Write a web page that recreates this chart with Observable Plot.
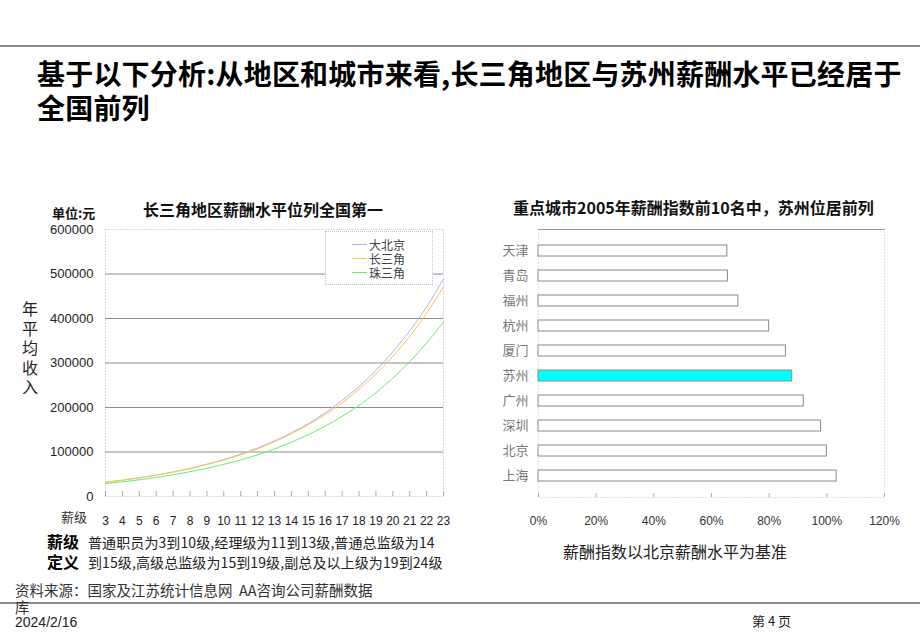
<!DOCTYPE html>
<html><head><meta charset="utf-8">
<script src="https://cdn.jsdelivr.net/npm/d3@7"></script>
<script src="https://cdn.jsdelivr.net/npm/@observablehq/plot@0.6"></script>
<style>
body{margin:0;background:#fff;}
#slide{position:relative;width:920px;height:637px;overflow:hidden;background:#fff;font-family:"Liberation Sans",Arial,"Noto Sans CJK SC",sans-serif;color:#222;}
.abs{position:absolute;white-space:nowrap;}
.cjk{font-family:"Noto Sans CJK SC","Liberation Sans",sans-serif;}
</style></head>
<body><div id="slide"></div>
<script>
// ---- data: left chart (annual income by pay grade) ----
const grades = [3,4,5,6,7,8,9,10,11,12,13,14,15,16,17,18,19,20,21,22,23];
const seriesNames = ["大北京","长三角","珠三角"];
const seriesColors = ["#aab0ff","#ffc83a","#66f066"];
const beijing = [32000,36700,42000,48200,55200,63200,72500,83000,95200,109000,125000,143000,164000,188000,216000,247000,283000,325000,372000,426000,489000];
const changsanjiao = [32000,36600,41900,47900,54800,62700,71700,82000,93800,107000,123000,141000,161000,184000,210000,241000,275000,315000,360000,412000,471000];
const zhusanjiao = [29000,33000,37600,42900,48800,55600,63400,72200,82200,93600,107000,122000,139000,158000,180000,205000,233000,266000,303000,345000,392000];
const yTicks = [0,100000,200000,300000,400000,500000,600000];
const gridLines = [100000,200000,300000,400000,500000];

// ---- data: right chart (salary index vs Beijing) ----
const cities = ["天津","青岛","福州","杭州","厦门","苏州","广州","深圳","北京","上海"];
const salaryIndex = [0.655,0.657,0.693,0.80,0.858,0.88,0.92,0.98,1.0,1.034];
const highlightCity = "苏州";
const xTicksRight = [0,0.2,0.4,0.6,0.8,1.0,1.2];

const slide = document.getElementById("slide");
function addText(txt, css, cls){
  const d = document.createElement("div");
  d.className = "abs " + (cls||"");
  d.innerHTML = txt;
  d.style.cssText += css;
  slide.appendChild(d);
  return d;
}

// header / footer lines
addText("", "left:0;top:45px;width:920px;height:2px;background:#8a8a8a;");
addText("", "left:0;top:602px;width:920px;height:2px;background:#8a8a8a;");

// main title
addText("基于以下分析:从地区和城市来看,长三角地区与苏州薪酬水平已经居于<br>全国前列",
  "left:37px;top:56px;font-size:28px;line-height:34px;font-weight:bold;color:#000;letter-spacing:0.2px;", "cjk");

// ---- left chart ----
const rows = [beijing, changsanjiao, zhusanjiao].flatMap((vals, s) =>
  grades.map((g, i) => ({grade: g, value: vals[i], name: seriesNames[s]})));

const left = Plot.plot({
  width: 460, height: 330,
  marginLeft: 105, marginRight: 17, marginTop: 29, marginBottom: 34,
  style: {fontFamily: '"Liberation Sans",Arial,sans-serif', fontSize: "12px", color: "#222", background: "transparent"},
  x: {domain: [3, 23]},
  y: {domain: [0, 600000]},
  color: {domain: seriesNames, range: seriesColors},
  marks: [
    Plot.frame({stroke: "#b8b0c0", strokeDasharray: "1,2"}),
    Plot.ruleY(gridLines, {stroke: "#8c8c8c", strokeWidth: 1.2}),
    Plot.line(rows, {x: "grade", y: "value", z: "name", stroke: "name", strokeWidth: 1, curve: "monotone-x"}),
    Plot.axisY({ticks: yTicks, tickSize: 0, tickPadding: 12, tickFormat: d => String(d), fontSize: 13, label: null}),
    Plot.axisX({ticks: grades, tickSize: -5, tickPadding: 25, tickFormat: d => String(d), stroke: "#aaa", fill: "#222", label: null})
  ]
});
left.style.position = "absolute"; left.style.left = "0px"; left.style.top = "200px";
slide.appendChild(left);

addText("长三角地区薪酬水平位列全国第一", "left:143px;top:197px;font-size:16px;font-weight:bold;color:#111;", "cjk");
addText("单位:元", "left:52px;top:203px;font-size:13px;font-weight:bold;color:#111;", "cjk");
addText("年<br>平<br>均<br>收<br>入", "left:22px;top:299px;font-size:16px;line-height:19.5px;color:#222;white-space:normal;width:18px;", "cjk");
addText("薪级", "left:61px;top:507px;font-size:13px;color:#333;", "cjk");

// legend
const leg = addText("", "left:325px;top:231px;width:106px;height:52px;background:#fff;border:1px dotted #c8b8d0;");
seriesNames.forEach((n, i) => {
  const row = document.createElement("div");
  row.style.cssText = `position:absolute;left:26px;top:${6 + i * 14}px;height:13px;display:flex;align-items:center;`;
  row.innerHTML = `<span style="display:inline-block;width:15px;height:1.5px;background:${seriesColors[i]};margin-right:2px;"></span><span class="cjk" style="font-size:12px;line-height:13px;color:#444;">${n}</span>`;
  leg.appendChild(row);
});

// definition text
addText("薪级<br>定义", "left:47px;top:531px;font-size:16px;line-height:20px;font-weight:bold;color:#000;", "cjk");
addText("普通职员为3到10级,经理级为11到13级,普通总监级为14<br>到15级,高级总监级为15到19级,副总及以上级为19到24级",
  "left:88px;top:533px;font-size:14px;line-height:19.5px;color:#222;letter-spacing:0.1px;", "cjk");

// ---- right chart ----
const bars = cities.map((c, i) => ({city: c, value: salaryIndex[i]}));
const right = Plot.plot({
  width: 460, height: 332,
  marginLeft: 78, marginRight: 36, marginTop: 29, marginBottom: 35,
  style: {fontFamily: '"Liberation Sans",Arial,sans-serif', fontSize: "12px", color: "#222", background: "transparent"},
  x: {domain: [0, 1.2]},
  y: {domain: cities, padding: 0.58},
  marks: [
    Plot.frame({stroke: "#c0c8c0", strokeDasharray: "1,2"}),
    Plot.frame({anchor: "top", stroke: "#9a9a9a", strokeWidth: 1.2}),
    Plot.barX(bars, {x: "value", y: "city", fill: d => d.city === highlightCity ? "#00ffff" : "#ffffff", stroke: "#8a8a8a", strokeWidth: 1}),
    Plot.axisY({tickSize: 0, tickPadding: 10, fontSize: 13, fill: "#777", fontFamily: '"Noto Sans CJK SC",sans-serif', label: null}),
    Plot.axisX({ticks: xTicksRight, tickSize: -4, tickPadding: 23, tickFormat: d => Math.round(d * 100) + "%", stroke: "#aaa", fill: "#333", label: null})
  ]
});
right.style.position = "absolute"; right.style.left = "460px"; right.style.top = "200px";
slide.appendChild(right);

addText("重点城市2005年薪酬指数前10名中，苏州位居前列", "left:513px;top:195px;font-size:16px;font-weight:bold;color:#111;", "cjk");
addText("薪酬指数以北京薪酬水平为基准", "left:563px;top:539px;font-size:16px;color:#222;", "cjk");

// footer
addText("资料来源：国家及江苏统计信息网&nbsp;&nbsp;AA咨询公司薪酬数据<br>库", "left:15px;top:581px;font-size:14.5px;line-height:17px;color:#333;", "cjk");
addText("2024/2/16", "left:15px;top:614px;font-size:14px;color:#222;");
addText("第&nbsp;4&nbsp;页", "left:752px;top:611px;font-size:13px;color:#222;", "cjk");
</script></body></html>
